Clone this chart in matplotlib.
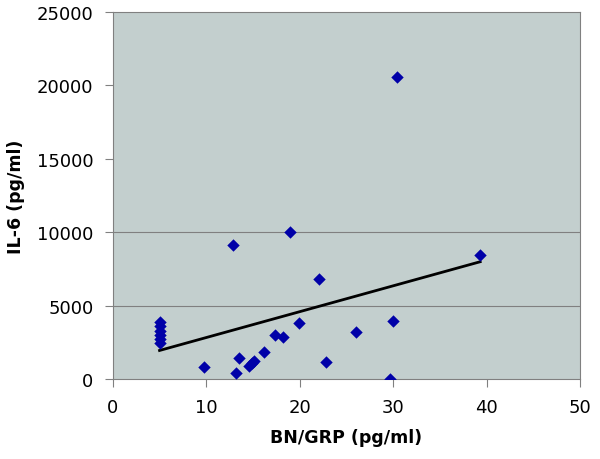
import numpy as np
import matplotlib
matplotlib.use("Agg")
import matplotlib.pyplot as plt

# BN/GRP (pg/ml) vs IL-6 (pg/ml)
bn_grp = [5, 5, 5, 5, 5, 5, 9.8, 12.9, 13.2, 13.5, 14.6, 14.9, 15.1, 16.2,
          17.3, 18.2, 19.0, 19.9, 22.1, 22.8, 26.0, 29.7, 30.0, 30.4, 39.3]
il6 = [3900, 3600, 3300, 3000, 2750, 2450, 800, 9150, 400, 1400, 870, 1080,
       1240, 1840, 3020, 2860, 10000, 3800, 6790, 1140, 3200, 0, 3970, 20560,
       8460]
x_ticks = [0, 10, 20, 30, 40, 50]
y_ticks = [0, 5000, 10000, 15000, 20000, 25000]
grid_vals = [5000, 10000]

GRIS = '#808080'

fig = plt.figure(figsize=(6, 4.6), dpi=100)
ax = fig.add_axes([0.188, 0.174, 0.779, 0.798])
ax.set_facecolor('#C3CFCE')

for g in grid_vals:
    ax.axhline(g, color=GRIS, lw=0.8, zorder=1)

ax.scatter(bn_grp, il6, marker='D', s=40, color='#0000A8', zorder=3,
           linewidths=0)

# recta de tendencia lineal (minimos cuadrados)
m, b = np.polyfit(bn_grp, il6, 1)
xt = np.array([min(bn_grp), max(bn_grp)])
ax.plot(xt, m * xt + b, color='black', lw=2, zorder=2)

ax.set_xlim(0, 50); ax.set_ylim(0, 25000)
ax.set_xticks(x_ticks); ax.set_yticks(y_ticks)
ax.tick_params(direction='out', length=6, color=GRIS, labelsize=13,
               width=0.8)
ax.tick_params(axis='y', pad=8)
ax.tick_params(axis='x', pad=8)
for s in ax.spines.values():
    s.set_color(GRIS); s.set_linewidth(0.8)

ax.set_xlabel('BN/GRP (pg/ml)', fontsize=12.5, fontweight='bold', labelpad=8)
ax.set_ylabel('IL-6 (pg/ml)', fontsize=12.5, fontweight='bold', labelpad=8)

fig.savefig('out.png', dpi=100)
